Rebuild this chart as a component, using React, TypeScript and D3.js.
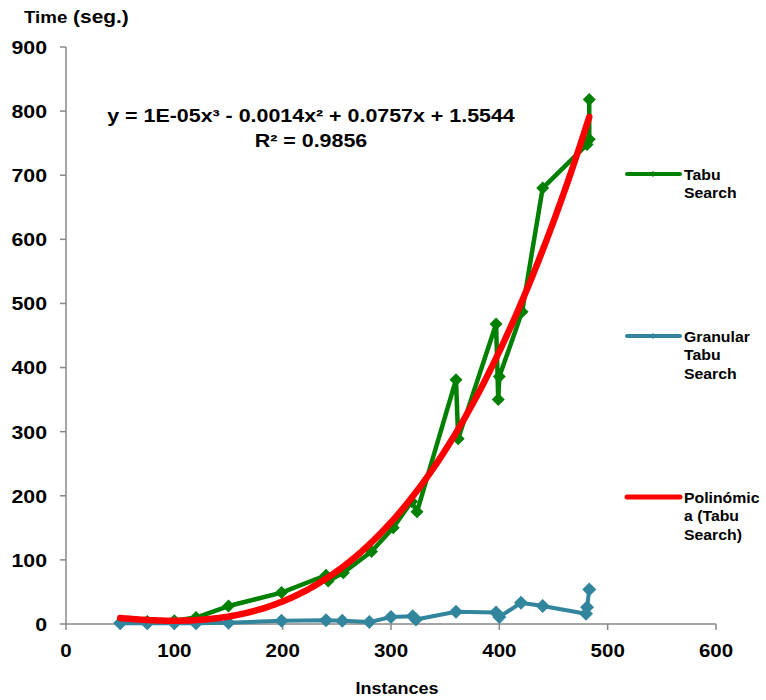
import React from "react";
import * as d3 from "d3";

const xTicks = [0, 100, 200, 300, 400, 500, 600];
const yTicks = [0, 100, 200, 300, 400, 500, 600, 700, 800, 900];

const tabuX = [50, 75, 100, 120, 150, 199, 240, 242, 256, 282, 302, 319, 324, 360, 362, 397, 399, 400, 421, 440, 481, 483, 483];
const tabuY = [2, 4, 5, 10, 28, 49, 76, 67, 80, 113, 150, 191, 175, 381, 289, 468, 350, 386, 487, 680, 748, 756, 818];

const granX = [50, 75, 100, 120, 150, 199, 240, 255, 280, 300, 320, 323, 360, 397, 400, 420, 440, 480, 481, 483];
const granY = [1, 1, 1, 1, 2, 5, 6, 5, 3, 11, 12, 7, 19, 18, 11, 33, 28, 16, 26, 54];

const seriesNames = [["Tabu", "Search"], ["Granular", "Tabu", "Search"], ["Polinómic", "a (Tabu", "Search)"]];
const equationText = "y = 1E-05x³ - 0.0014x² + 0.0757x + 1.5544";
const r2Text = "R² = 0.9856";

const GREEN = "#008000";
const TEAL = "#31859C";
const RED = "#FF0000";
const AXIS = "#888888";
const FONT = "Arial, 'Liberation Sans', Helvetica, sans-serif";

// least-squares cubic fit (trendline computed from the Tabu Search data)
function cubicFit(xs: number[], ys: number[]) {
  const n = 4;
  const s = 100;
  const A: number[][] = Array.from({ length: n }, () => new Array(n + 1).fill(0));
  xs.forEach((xv, i) => {
    const t = xv / s;
    const p = [1, t, t * t, t * t * t];
    for (let r = 0; r < n; r++) {
      for (let c = 0; c < n; c++) A[r][c] += p[r] * p[c];
      A[r][n] += p[r] * ys[i];
    }
  });
  for (let i = 0; i < n; i++) {
    let m = i;
    for (let k = i + 1; k < n; k++) if (Math.abs(A[k][i]) > Math.abs(A[m][i])) m = k;
    [A[i], A[m]] = [A[m], A[i]];
    for (let k = i + 1; k < n; k++) {
      const f = A[k][i] / A[i][i];
      for (let c = i; c <= n; c++) A[k][c] -= f * A[i][c];
    }
  }
  const b = new Array(n).fill(0);
  for (let i = n - 1; i >= 0; i--) {
    let v = A[i][n];
    for (let c = i + 1; c < n; c++) v -= A[i][c] * b[c];
    b[i] = v / A[i][i];
  }
  return (xv: number) => {
    const t = xv / s;
    return b[0] + b[1] * t + b[2] * t * t + b[3] * t * t * t;
  };
}

// text stretched horizontally to match the wide bold face of the reference
function T(props: {
  x: number;
  y: number;
  sx?: number;
  size: number;
  anchor?: "start" | "middle" | "end";
  dy?: string;
  children: React.ReactNode;
}) {
  const { x, y, sx = 1, size, anchor = "start", dy, children } = props;
  return (
    <text
      transform={`translate(${x},${y}) scale(${sx},1)`}
      textAnchor={anchor}
      dy={dy}
      fontSize={size}
      fill="#000"
    >
      {children}
    </text>
  );
}

export default function App() {
  const x = d3.scaleLinear().domain([0, 600]).range([66, 716]);
  const y = d3.scaleLinear().domain([0, 900]).range([624, 47]);

  const tabu = tabuX.map((v, i) => [v, tabuY[i]] as [number, number]);
  const gran = granX.map((v, i) => [v, granY[i]] as [number, number]);
  const fit = cubicFit(tabuX, tabuY);
  const xmin = d3.min(tabuX)!;
  const xmax = d3.max(tabuX)!;
  const trend = d3.range(0, 201).map((i) => {
    const xv = xmin + ((xmax - xmin) * i) / 200;
    return [xv, fit(xv)] as [number, number];
  });

  const line = d3
    .line<[number, number]>()
    .x((d) => x(d[0]))
    .y((d) => y(d[1]));
  const curve = d3
    .line<[number, number]>()
    .x((d) => x(d[0]))
    .y((d) => y(d[1]))
    .curve(d3.curveMonotoneX);

  const diamond = (cx: number, cy: number, r: number) =>
    `M${cx},${cy - r}L${cx + r},${cy}L${cx},${cy + r}L${cx - r},${cy}Z`;

  const legendItems = [
    { color: GREEN, y: 174, marker: true, width: 4 },
    { color: TEAL, y: 336, marker: true, width: 4 },
    { color: RED, y: 497, marker: false, width: 5 },
  ];

  return (
    <svg
      width={766}
      height={700}
      style={{ position: "absolute", left: 0, top: 0, background: "#fff" }}
      fontFamily={FONT}
      fontWeight="bold"
    >
      {/* axes */}
      <line x1={x(0)} x2={x(600)} y1={y(0)} y2={y(0)} stroke={AXIS} strokeWidth={1.5} />
      <line x1={x(0)} x2={x(0)} y1={y(0)} y2={y(900)} stroke={AXIS} strokeWidth={1.5} />
      {yTicks.map((t) => (
        <g key={"y" + t}>
          <line x1={x(0) - 6} x2={x(0)} y1={y(t)} y2={y(t)} stroke={AXIS} strokeWidth={1.5} />
          <T x={47} y={y(t)} dy="0.36em" anchor="end" size={19} sx={1.12}>
            {t}
          </T>
        </g>
      ))}
      {xTicks.map((t) => (
        <g key={"x" + t}>
          <line x1={x(t)} x2={x(t)} y1={y(0)} y2={y(0) + 6} stroke={AXIS} strokeWidth={1.5} />
          <T x={x(t)} y={650} dy="0.36em" anchor="middle" size={19} sx={1.08}>
            {t}
          </T>
        </g>
      ))}

      {/* titles */}
      <T x={24} y={23} size={17} sx={1.1}>
        <tspan fontSize={17}>Time</tspan>
        <tspan fontSize={19}> (seg.)</tspan>
      </T>
      <T x={397} y={694} anchor="middle" size={16.5} sx={1.09}>
        Instances
      </T>

      {/* series */}
      <path d={line(tabu)!} fill="none" stroke={GREEN} strokeWidth={4.5} strokeLinejoin="round" />
      {tabu.map((d, i) => (
        <path key={"t" + i} d={diamond(x(d[0]), y(d[1]), 6.5)} fill={GREEN} />
      ))}
      <path d={line(gran)!} fill="none" stroke={TEAL} strokeWidth={4} strokeLinejoin="round" />
      {gran.map((d, i) => (
        <path key={"g" + i} d={diamond(x(d[0]), y(d[1]), 7)} fill={TEAL} />
      ))}
      <path d={curve(trend)!} fill="none" stroke={RED} strokeWidth={6.5} strokeLinecap="round" />

      {/* equation */}
      <T x={311} y={122} anchor="middle" size={18} sx={1.19}>
        {equationText}
      </T>
      <T x={311} y={147} anchor="middle" size={18} sx={1.19}>
        {r2Text}
      </T>

      {/* legend */}
      {legendItems.map((it, i) => (
        <g key={"l" + i}>
          <line x1={627} x2={680} y1={it.y} y2={it.y} stroke={it.color} strokeWidth={it.width} strokeLinecap="round" />
          {it.marker && <path d={diamond(653, it.y, 3)} fill={it.color} />}
          {seriesNames[i].map((s, j) => (
            <T key={j} x={684} y={it.y + j * 18.5} dy="0.36em" size={15.5} sx={1.02}>
              {s}
            </T>
          ))}
        </g>
      ))}
    </svg>
  );
}
